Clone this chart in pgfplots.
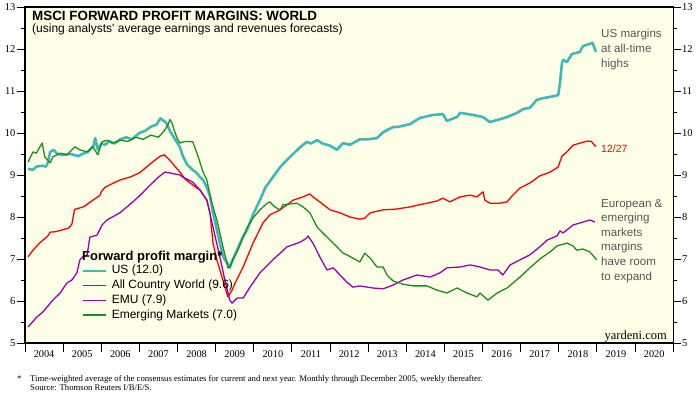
\documentclass[border=0pt]{standalone}
\usepackage{fontspec}
\setmainfont{Liberation Serif}
\newfontfamily\arial{Liberation Sans}
\usepackage{pgfplots}
\usepackage{pgfplotstable}
\pgfplotsset{compat=1.18}
\definecolor{bgy}{RGB}{255,255,232}
\definecolor{usc}{RGB}{64,184,184}
\definecolor{acwi}{RGB}{250,0,0}
\definecolor{emu}{RGB}{155,0,180}
\definecolor{emc}{RGB}{30,140,30}
\definecolor{anno}{RGB}{85,85,85}

\pgfplotstableread{
x y
2004.08 9.15
2004.20 9.12
2004.30 9.20
2004.45 9.22
2004.55 9.20
2004.60 9.30
2004.66 9.55
2004.75 9.60
2004.85 9.50
2005.00 9.48
2005.20 9.50
2005.40 9.45
2005.50 9.50
2005.65 9.55
2005.80 9.70
2005.84 9.88
2005.91 9.60
2006.00 9.75
2006.10 9.72
2006.20 9.80
2006.35 9.75
2006.50 9.85
2006.65 9.90
2006.80 9.85
2007.00 10.00
2007.15 10.05
2007.30 10.15
2007.45 10.20
2007.55 10.35
2007.62 10.30
2007.70 10.25
2007.80 10.05
2007.90 9.90
2008.00 9.75
2008.06 9.67
2008.14 9.45
2008.25 9.25
2008.40 9.12
2008.50 9.05
2008.59 8.95
2008.67 8.88
2008.77 8.70
2008.85 8.50
2008.93 8.10
2009.03 7.70
2009.11 7.38
2009.20 7.05
2009.30 6.90
2009.37 6.79
2009.43 6.95
2009.56 7.21
2009.70 7.50
2009.82 7.69
2010.00 8.10
2010.16 8.40
2010.30 8.70
2010.50 8.95
2010.70 9.20
2010.95 9.43
2011.20 9.65
2011.39 9.79
2011.50 9.75
2011.66 9.83
2011.80 9.75
2012.00 9.70
2012.18 9.60
2012.34 9.76
2012.52 9.72
2012.78 9.85
2013.00 9.85
2013.23 9.88
2013.39 10.02
2013.65 10.14
2013.80 10.15
2014.09 10.21
2014.36 10.36
2014.70 10.43
2014.96 10.45
2015.06 10.29
2015.33 10.38
2015.41 10.48
2015.75 10.43
2016.01 10.38
2016.19 10.26
2016.38 10.31
2016.64 10.38
2016.90 10.48
2017.06 10.57
2017.24 10.60
2017.42 10.79
2017.58 10.83
2017.77 10.86
2017.98 10.90
2018.03 11.20
2018.08 11.67
2018.11 11.74
2018.21 11.69
2018.34 11.88
2018.55 11.93
2018.63 12.07
2018.81 12.12
2018.88 12.15
2018.97 11.93
}\usdata

\pgfplotstableread{
x y
2004.08 7.05
2004.20 7.20
2004.35 7.35
2004.47 7.45
2004.60 7.55
2004.66 7.64
2004.80 7.65
2005.00 7.70
2005.15 7.74
2005.23 7.83
2005.30 8.18
2005.45 8.22
2005.55 8.25
2005.70 8.35
2005.78 8.40
2005.97 8.52
2006.00 8.60
2006.10 8.71
2006.30 8.80
2006.49 8.88
2006.75 8.95
2007.00 9.05
2007.20 9.20
2007.40 9.35
2007.55 9.45
2007.65 9.48
2007.80 9.35
2008.06 9.07
2008.20 8.90
2008.40 8.76
2008.59 8.64
2008.77 8.40
2008.85 8.10
2008.93 7.38
2009.03 6.98
2009.19 6.50
2009.32 6.10
2009.43 6.26
2009.51 6.43
2009.72 6.81
2009.98 7.38
2010.24 7.86
2010.42 8.05
2010.69 8.17
2011.03 8.40
2011.29 8.48
2011.47 8.55
2011.55 8.48
2011.73 8.36
2012.00 8.17
2012.26 8.10
2012.52 8.00
2012.78 7.95
2012.91 7.97
2013.05 8.10
2013.39 8.17
2013.75 8.19
2014.09 8.24
2014.44 8.31
2014.80 8.38
2014.96 8.45
2015.14 8.36
2015.41 8.48
2015.67 8.52
2015.85 8.48
2016.01 8.60
2016.06 8.40
2016.19 8.33
2016.45 8.33
2016.64 8.36
2016.79 8.52
2016.98 8.69
2017.24 8.81
2017.50 8.98
2017.77 9.07
2017.98 9.19
2018.08 9.45
2018.21 9.55
2018.37 9.71
2018.55 9.76
2018.76 9.81
2018.85 9.80
2018.97 9.67
}\acwidata

\pgfplotstableread{
x y
2004.08 5.38
2004.31 5.62
2004.47 5.74
2004.73 6.02
2004.92 6.19
2005.10 6.43
2005.23 6.50
2005.36 6.67
2005.44 6.98
2005.52 7.05
2005.63 7.10
2005.70 7.52
2005.89 7.57
2006.02 7.81
2006.15 7.93
2006.49 8.10
2006.75 8.30
2007.00 8.50
2007.28 8.76
2007.50 8.95
2007.67 9.07
2007.80 9.05
2008.06 9.00
2008.14 8.95
2008.40 8.83
2008.59 8.64
2008.77 8.40
2008.93 7.76
2009.11 7.05
2009.24 6.50
2009.37 6.02
2009.43 5.95
2009.56 6.07
2009.72 6.07
2009.90 6.33
2010.16 6.67
2010.50 6.98
2010.87 7.29
2011.21 7.40
2011.39 7.50
2011.42 7.55
2011.55 7.38
2011.73 7.05
2011.92 6.74
2012.08 6.79
2012.26 6.62
2012.44 6.45
2012.60 6.33
2012.78 6.36
2013.12 6.31
2013.39 6.29
2013.65 6.38
2013.91 6.50
2014.28 6.62
2014.62 6.57
2014.88 6.67
2015.06 6.79
2015.41 6.81
2015.67 6.86
2015.93 6.81
2016.19 6.74
2016.40 6.74
2016.53 6.62
2016.72 6.86
2016.98 6.98
2017.24 7.10
2017.50 7.29
2017.69 7.45
2017.95 7.55
2018.03 7.67
2018.11 7.62
2018.37 7.81
2018.63 7.88
2018.81 7.93
2018.94 7.88
}\emudata

\pgfplotstableread{
x y
2004.08 9.31
2004.21 9.55
2004.30 9.52
2004.39 9.67
2004.45 9.76
2004.52 9.43
2004.66 9.29
2004.73 9.43
2004.92 9.52
2005.10 9.48
2005.31 9.67
2005.44 9.60
2005.63 9.55
2005.78 9.67
2005.91 9.48
2006.02 9.79
2006.15 9.83
2006.31 9.76
2006.49 9.83
2006.70 9.80
2006.90 9.90
2007.10 9.85
2007.30 9.95
2007.50 9.90
2007.65 10.05
2007.75 10.20
2007.80 10.32
2007.85 10.25
2007.90 10.10
2008.00 9.85
2008.06 9.76
2008.20 9.80
2008.40 9.79
2008.46 9.64
2008.51 9.52
2008.67 9.07
2008.77 8.88
2008.85 8.52
2008.93 8.24
2009.03 7.93
2009.11 7.62
2009.19 7.29
2009.30 6.90
2009.32 6.79
2009.37 6.81
2009.45 6.98
2009.58 7.21
2009.72 7.52
2009.82 7.74
2009.90 7.86
2009.98 7.98
2010.16 8.17
2010.35 8.33
2010.42 8.36
2010.55 8.24
2010.69 8.17
2010.76 8.29
2010.95 8.31
2011.13 8.33
2011.29 8.24
2011.47 8.10
2011.66 7.76
2011.81 7.62
2012.00 7.45
2012.18 7.29
2012.34 7.14
2012.44 7.10
2012.60 7.02
2012.78 6.93
2012.91 7.14
2013.05 7.02
2013.23 6.81
2013.39 6.81
2013.49 6.62
2013.65 6.48
2013.91 6.40
2014.17 6.36
2014.54 6.36
2014.80 6.26
2015.06 6.19
2015.33 6.31
2015.59 6.19
2015.85 6.10
2015.93 6.19
2016.14 6.02
2016.38 6.19
2016.64 6.31
2016.98 6.57
2017.24 6.79
2017.50 7.00
2017.77 7.17
2017.95 7.31
2018.21 7.38
2018.37 7.31
2018.47 7.21
2018.63 7.24
2018.81 7.17
2018.99 6.98
}\emdata

\begin{document}
\begin{tikzpicture}[x=1bp,y=1bp]
\path[use as bounding box] (0,0) rectangle (697,-397);
\begin{axis}[
  at={(25bp,-343bp)}, anchor=south west,
  scale only axis, width=648.3bp, height=336bp,
  xmin=2004, xmax=2021, ymin=5, ymax=13,
  axis background/.style={fill=bgy},
  axis line style={line width=1.6bp},
  xtick={2004,...,2021}, xtick pos=bottom, x tick label as interval,
  xticklabels={2004,2005,2006,2007,2008,2009,2010,2011,2012,2013,2014,2015,2016,2017,2018,2019,2020},
  ytick={5,...,13}, minor y tick num=1, ytick pos=left,
  tick align=outside, major tick length=8.5bp, minor tick length=4bp,
  every tick/.style={black, line width=1bp},
  /pgf/number format/assume math mode=true,
  tick label style={font=\fontsize{10.5bp}{12bp}\selectfont},
  xticklabel style={font=\fontsize{10.3bp}{12bp}\selectfont, yshift=4bp},
  yticklabel style={inner xsep=1bp},
  legend style={at={(0.0864,0.236)}, anchor=north west, draw=none, fill=none,
    inner sep=0pt, font=\arial\fontsize{12bp}{14bp}\selectfont,
    nodes={inner sep=1bp, text height=9bp, text depth=3bp},
    row sep=0.7bp},
  legend cell align=left,
  legend image code/.code={\draw[#1] (0bp,0bp) -- (23bp,0bp);},
  /tikz/every odd column/.append style={column sep=4bp},
]
\addplot[usc, line width=2.6bp, line join=round] table {\usdata};
\addlegendentry{US (12.0)}
\addplot[acwi, line width=1.3bp, line join=round] table {\acwidata};
\addlegendentry{All Country World (9.6)}
\addplot[emu, line width=1.3bp, line join=round] table {\emudata};
\addlegendentry{EMU (7.9)}
\addplot[emc, line width=1.3bp, line join=round] table {\emdata};
\addlegendentry{Emerging Markets (7.0)}
\end{axis}
\begin{axis}[
  at={(25bp,-343bp)}, anchor=south west,
  scale only axis, width=648.3bp, height=336bp,
  xmin=2004, xmax=2021, ymin=5, ymax=13,
  axis line style={line width=1.6bp},
  xtick=\empty,
  ytick={5,...,13}, minor y tick num=1, ytick pos=right, yticklabel pos=right,
  tick align=outside, major tick length=8bp, minor tick length=4bp,
  every tick/.style={black, line width=1bp},
  /pgf/number format/assume math mode=true,
  tick label style={font=\fontsize{10.5bp}{12bp}\selectfont},
  yticklabel style={inner xsep=0.5bp},
]
\end{axis}
\node[anchor=base west, inner sep=0, font=\arial\bfseries\fontsize{13.4bp}{15bp}\selectfont] at (32,-20.8) {MSCI FORWARD PROFIT MARGINS: WORLD};
\node[anchor=base west, inner sep=0, font=\arial\fontsize{12bp}{13bp}\selectfont] at (32,-32) {(using analysts' average earnings and revenues forecasts)};
\node[anchor=base west, inner sep=0, font=\arial\bfseries\fontsize{13bp}{15bp}\selectfont] at (82,-260.5) {Forward profit margin*};
\begin{scope}[every node/.style={anchor=base west, inner sep=0, text=anno, font=\arial\fontsize{11.6bp}{14bp}\selectfont}]
\node at (601,-37) {US margins};
\node at (601,-52) {at all-time};
\node at (601,-67) {highs};
\node at (601,-207) {European \&};
\node at (601,-221.6) {emerging};
\node at (601,-236.2) {markets};
\node at (601,-250.8) {margins};
\node at (601,-265.4) {have room};
\node at (601,-280) {to expand};
\end{scope}
\node[anchor=base west, inner sep=0, text=acwi, font=\arial\fontsize{10.5bp}{12bp}\selectfont] at (601,-152.3) {12/27};
\node[anchor=base east, inner sep=0, font=\fontsize{12.5bp}{14bp}\selectfont] at (667,-339.5) {yardeni.com};
\node[anchor=base west, inner sep=0, font=\fontsize{8.7bp}{10bp}\selectfont] at (17,-381) {*};
\node[anchor=base west, inner sep=0, font=\fontsize{8.7bp}{10bp}\selectfont] at (30,-381) {Time-weighted average of the consensus estimates for current and next year. Monthly through December 2005, weekly thereafter.};
\node[anchor=base west, inner sep=0, font=\fontsize{8.7bp}{10bp}\selectfont] at (30,-390.5) {Source: Thomson Reuters I/B/E/S.};
\end{tikzpicture}
\end{document}
